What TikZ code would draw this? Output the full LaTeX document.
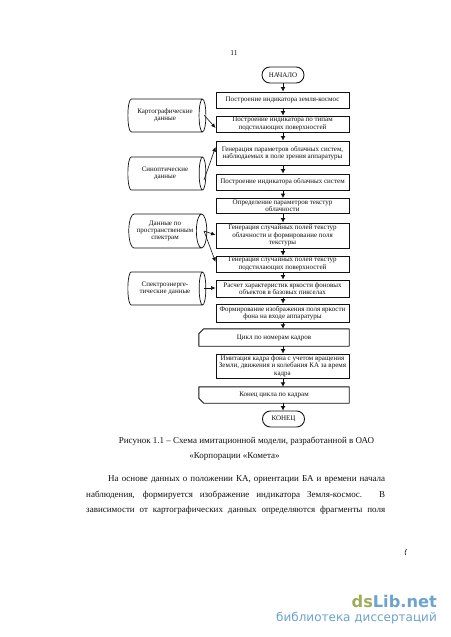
\documentclass[tikz,border=0pt]{standalone}
\usepackage{fontspec}
\setmainfont{Liberation Serif}
\newfontfamily\wmfont{DejaVu Sans}
\usetikzlibrary{shapes.geometric,arrows.meta}
\definecolor{wmgreen}{HTML}{9DAE5A}
\definecolor{wmblue}{HTML}{6CA3CF}
\definecolor{ink}{HTML}{111111}
\tikzset{
  every node/.style={text=ink},
  dtext/.style={font=\fontsize{7}{7.4}\selectfont,align=center,inner sep=0pt},
  pbox/.style={dtext,draw=ink,line width=0.9pt,minimum width=133pt},
  term/.style={dtext,draw=ink,line width=0.9pt,rounded corners=7.9pt,minimum width=42pt,minimum height=16pt,font=\fontsize{7}{8}\selectfont},
  store/.style={dtext,draw=ink,line width=0.7pt,cylinder,shape border rotate=0,aspect=0.5,minimum height=78pt},
  flow/.style={draw=ink,line width=1pt,-{Latex[length=4.5pt,width=5pt]}},
  feed/.style={draw=ink,line width=0.6pt,-{Latex[length=4.5pt,width=4pt]}},
  loopedge/.style={draw=ink,line width=0.9pt,line join=round},
  plainlabel/.style={inner sep=0pt,anchor=base,font=\fontsize{9}{11}\selectfont},
  bodyline/.style={inner sep=0pt,anchor=base west,font=\fontsize{9}{11}\selectfont}
}
\begin{document}
\begin{tikzpicture}[x=1pt,y=-1pt]
\useasboundingbox (0,0) rectangle (450,637);
\fill[white] (0,0) rectangle (450,637);
\node[plainlabel,font=\fontsize{7.5}{9}\selectfont] (pg) at (234,55) {11};
\node[term] (start) at (283,75) {НАЧАЛО};
\node[pbox,minimum height=16pt] (b1) at (282.5,100) {Построение индикатора земля-космос};
\node[pbox,minimum height=16pt] (b2) at (282.5,124) {Построение индикатора по типам\\подстилающих поверхностей};
\node[pbox,minimum height=24pt] (b3) at (282.5,153) {Генерация параметров облачных систем,\\наблюдаемых в поле зрения аппаратуры};
\node[pbox,minimum height=16pt] (b4) at (282.5,182) {Построение индикатора облачных систем};
\node[pbox,minimum height=15pt] (b5) at (282.5,206) {Определение параметров текстур\\облачности};
\node[pbox,minimum height=25pt] (b6) at (282.5,235.5) {Генерация случайных полей текстур\\облачности и формирование поля\\текстуры};
\node[pbox,minimum height=16pt] (b7) at (282.5,264) {Генерация случайных полей текстур\\подстилающих поверхностей};
\node[pbox,minimum height=17pt] (b8) at (282.5,288.5) {Расчет характеристик яркости фоновых\\объектов в базовых пикселах};
\node[pbox,minimum height=18pt] (b9) at (282.5,313) {Формирование изображения поля яркости\\фона на входе аппаратуры};
\node[dtext,minimum width=150pt,minimum height=17pt] (loopa) at (274,337.5) {Цикл по номерам кадров};
\node[pbox,minimum height=24pt] (b10) at (282.5,366) {Имитация кадра фона с учетом вращения\\Земли, движения и колебания КА за время\\кадра};
\node[dtext,minimum width=150pt,minimum height=16pt] (loopb) at (274,395) {Конец цикла по кадрам};
\node[term] (stop) at (283.5,419) {КОНЕЦ};
\draw[loopedge] (loopa.north east) -- (loopa.south east) -- (loopa.south west) -- ([yshift=-5pt]loopa.north west) -- ([xshift=5pt]loopa.north west) -- cycle;
\draw[loopedge] (loopb.north east) -- (loopb.south east) -- ([xshift=5pt]loopb.south west) -- ([yshift=5pt]loopb.south west) -- (loopb.north west) -- cycle;
\node[store,minimum width=33pt] (c1) at (165,115.5) {Картографические\\данные};
\node[store,minimum width=33pt] (c2) at (165,173.5) {Синоптические\\данные};
\node[store,minimum width=34pt] (c3) at (165,231) {Данные по\\пространственным\\спектрам};
\node[store,minimum width=33pt] (c4) at (165,288.5) {Спектроэнерге-\\тические данные};
\foreach \a/\b in {start/b1,b1/b2,b2/b3,b3/b4,b4/b5,b5/b6,b6/b7,b7/b8,b8/b9}
  \draw[flow] (\a.south -| start.south) -- (\b.north -| start.south);
\draw[flow] (b9.south -| start.south) -- (loopa.north -| start.south);
\draw[flow] (loopa.south -| start.south) -- (b10.north -| start.south);
\draw[flow] (b10.south -| start.south) -- (loopb.north -| start.south);
\draw[flow] (loopb.south -| start.south) -- (stop.north -| start.south);
\coordinate (c1o) at (204,115);
\coordinate (c2o) at (204,180);
\coordinate (c3o) at (204,231);
\coordinate (c4o) at (204,288);
\coordinate (b2i) at (b2.west |- 0,128);
\coordinate (b3i) at (b3.west |- 0,147);
\coordinate (b6i) at (b6.west |- 0,235);
\coordinate (b7i) at (b7.west |- 0,262);
\coordinate (b8i) at (b8.west |- 0,288);
\draw[feed] (c1o) -- (b2i);
\draw[feed] (c2o) -- (b3i);
\draw[feed] (c3o) -- (b6i);
\draw[feed] (c3o) -- (b7i);
\draw[feed] (c4o) -- (b8i);
\node[plainlabel] (cap1) at (246.5,443) {Рисунок 1.1 – Схема имитационной модели, разработанной в ОАО};
\node[plainlabel] (cap2) at (234.5,458) {«Корпорации «Комета»};
\node[bodyline] (t1) at (108,481) {\makebox[277pt][s]{На основе данных о положении КА, ориентации БА и времени начала}};
\node[bodyline] (t2) at (86,497) {\makebox[299pt][s]{наблюдения, формируется изображение индикатора Земля-космос. В}};
\node[bodyline] (t3) at (86,512) {\makebox[299pt][s]{зависимости от картографических данных определяются фрагменты поля}};
\draw[ink,line width=0.6pt] (405.5,555) .. controls (404.5,553) and (405,551) .. (406.5,549);
\node[inner sep=0pt,anchor=base east,font=\wmfont\bfseries\fontsize{16.2}{20}\selectfont] (wm1) at (437,607) {\textcolor{wmgreen}{ds}\textcolor{wmblue}{Lib.net}};
\node[inner sep=0pt,anchor=base east,font=\wmfont\fontsize{12}{14}\selectfont,text=wmblue] (wm2) at (437,621) {библиотека диссертаций};
\end{tikzpicture}
\end{document}
